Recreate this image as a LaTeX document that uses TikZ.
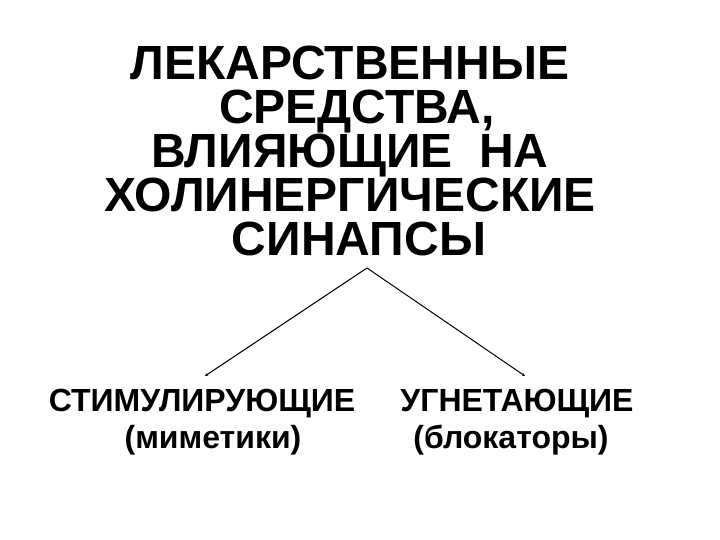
\documentclass[tikz,border=0pt]{standalone}
\usepackage{fontspec}
\setmainfont{Liberation Sans}
\usetikzlibrary{arrows.meta, positioning}

\tikzset{
    heading/.style={anchor=north, align=center, font=\bfseries\fontsize{48}{44}\selectfont},
    group/.style={anchor=north, align=center, font=\bfseries\fontsize{32}{37}\selectfont},
    branch/.style={line width=1pt, -{Stealth[length=3pt, width=3pt]}}
}

\begin{document}
\begin{tikzpicture}[x=1pt, y=-1pt, every node/.style={inner sep=0pt}]
    % Page frame (slide 720 x 540)
    \useasboundingbox (0,0) rectangle (720,540);

    % Title
    \node[heading] (title) at (350,46)
        {ЛЕКАРСТВЕННЫЕ\\ \hspace*{14pt}СРЕДСТВА,\\ ВЛИЯЮЩИЕ\ \ НА\hspace*{8pt}\\
         ХОЛИНЕРГИЧЕСКИЕ\hspace*{20pt}\\ \hspace*{18pt}СИНАПСЫ};

    % Two groups
    \node[group] (stim) at (202,389) {СТИМУЛИРУЮЩИЕ\\ \hspace*{22pt}(миметики)};
    \node[group] (ugn) at (517,389) {УГНЕТАЮЩИЕ\\ (блокаторы)\hspace*{12pt}};

    % Branches
    \coordinate (apex) at (367,268);
    \coordinate (stimend) at (205,376);
    \coordinate (ugnend) at (525,376);
    \draw[branch] (apex) -- (stimend);
    \draw[branch] (apex) -- (ugnend);
\end{tikzpicture}
\end{document}
